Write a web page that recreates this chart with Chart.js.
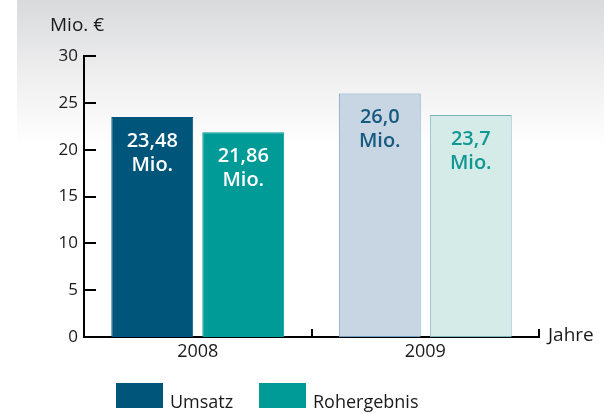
<!DOCTYPE html>
<html>
<head>
<meta charset="utf-8">
<script src="https://cdn.jsdelivr.net/npm/chart.js@4/dist/chart.umd.min.js"></script>
<style>
html,body{margin:0;padding:0;background:#fff;}
#wrap{width:604px;height:414px;position:relative;}
</style>
</head>
<body>
<div id="wrap"><canvas id="c" width="604" height="414"></canvas></div>
<script>
// ---- data ----
const categories = ['2008', '2009'];
const seriesNames = ['Umsatz', 'Rohergebnis'];
const umsatz = [23.48, 26.0];
const rohergebnis = [21.86, 23.7];
const umsatzLabels = ['23,48', '26,0'];
const rohergebnisLabels = ['21,86', '23,7'];
const unitLabel = 'Mio.';
const yAxisTitle = 'Mio. €';
const xAxisTitle = 'Jahre';
const yTickValues = [0, 5, 10, 15, 20, 25, 30];

// ---- styles ----
const FONT = "'Open Sans', 'Noto Sans', sans-serif";
const umsatzFill = ['#00557b', '#c7d6e2'];
const umsatzBorder = ['#00557b', '#6f9dbd'];
const umsatzText = ['#ffffff', '#165a80'];
const rohFill = ['#009a97', '#d5ebe8'];
const rohBorder = ['#009a97', '#7cb2ba'];
const rohText = ['#ffffff', '#0f9892'];
const legendColors = [umsatzFill[0], rohFill[0]];
const valueLabels = [umsatzLabels, rohergebnisLabels];
const valueColors = [umsatzText, rohText];

const bgPlugin = {
  id: 'bg',
  beforeDraw(chart) {
    const ctx = chart.ctx;
    ctx.save();
    ctx.fillStyle = '#ffffff';
    ctx.fillRect(0, 0, chart.width, chart.height);
    const g = ctx.createLinearGradient(0, 0, 0, 145);
    g.addColorStop(0, '#d9dadc');
    g.addColorStop(0.5, '#eeeeef');
    g.addColorStop(0.8, '#f8f8f8');
    g.addColorStop(1, '#ffffff');
    ctx.fillStyle = g;
    ctx.fillRect(17, 0, chart.width - 17, 145);
    ctx.restore();
  }
};

const decorPlugin = {
  id: 'decor',
  afterDatasetsDraw(chart) {
    const ctx = chart.ctx;
    const ys = chart.scales.y, xs = chart.scales.x;
    const ca = chart.chartArea;
    ctx.save();
    // y tick marks (pointing inward)
    ctx.strokeStyle = '#000';
    ctx.lineWidth = 2;
    yTickValues.forEach(v => {
      const py = Math.round(ys.getPixelForValue(v));
      ctx.beginPath();
      ctx.moveTo(ca.left - 1, py);
      ctx.lineTo(ca.left + 12, py);
      ctx.stroke();
    });
    // x tick marks at category boundaries (pointing up)
    const b1 = (xs.getPixelForValue(0) + xs.getPixelForValue(1)) / 2;
    [b1, ca.right].forEach(px => {
      ctx.beginPath();
      ctx.moveTo(Math.round(px), ca.bottom + 1);
      ctx.lineTo(Math.round(px), ca.bottom - 8);
      ctx.stroke();
    });
    // value labels in bars
    chart.data.datasets.forEach((ds, di) => {
      const meta = chart.getDatasetMeta(di);
      meta.data.forEach((bar, i) => {
        ctx.fillStyle = valueColors[di][i];
        ctx.font = "600 20px " + FONT;
        ctx.textAlign = 'center';
        ctx.textBaseline = 'alphabetic';
        ctx.fillText(valueLabels[di][i], bar.x, bar.y + 30);
        ctx.fillText(unitLabel, bar.x, bar.y + 54);
      });
    });
    // axis titles
    ctx.fillStyle = '#1a1a1a';
    ctx.textAlign = 'left';
    ctx.font = "19px " + FONT;
    ctx.textBaseline = 'alphabetic';
    ctx.fillText(yAxisTitle, 50, 31);
    ctx.fillText(xAxisTitle, ca.right + 9, ca.bottom + 4);
    // legend
    chart.data.datasets.forEach((ds, di) => {
      const bx = di === 0 ? 116 : 259;
      ctx.fillStyle = legendColors[di];
      ctx.fillRect(bx, 383, 47, 25);
      ctx.fillStyle = '#1a1a1a';
      ctx.font = "18px " + FONT;
      ctx.textAlign = 'left';
      ctx.fillText(ds.label, bx + 54, 408);
    });
    ctx.restore();
  }
};

new Chart(document.getElementById('c'), {
  type: 'bar',
  data: {
    labels: categories,
    datasets: [
      {
        label: seriesNames[0],
        data: umsatz,
        backgroundColor: umsatzFill,
        borderColor: umsatzBorder,
        borderWidth: 1,
        borderSkipped: false,
        categoryPercentage: 0.8,
        barPercentage: 0.9
      },
      {
        label: seriesNames[1],
        data: rohergebnis,
        backgroundColor: rohFill,
        borderColor: rohBorder,
        borderWidth: 1,
        borderSkipped: false,
        categoryPercentage: 0.8,
        barPercentage: 0.9
      }
    ]
  },
  options: {
    responsive: false,
    animation: false,
    devicePixelRatio: 1,
    layout: { padding: { left: 0, right: 65, top: 56, bottom: 0 } },
    plugins: { legend: { display: false }, tooltip: { enabled: false } },
    scales: {
      x: {
        grid: { display: false, drawTicks: false },
        border: { display: true, color: '#000', width: 2 },
        ticks: { color: '#1a1a1a', font: { family: FONT, size: 18 }, padding: 4 },
        afterFit(scale) { scale.height = 77; }
      },
      y: {
        min: 0, max: 30,
        grid: { display: false, drawTicks: false },
        border: { display: true, color: '#000', width: 2 },
        ticks: { stepSize: 5, color: '#1a1a1a', font: { family: FONT, size: 17 }, padding: 6 },
        afterFit(scale) { scale.width = 84; }
      }
    }
  },
  plugins: [bgPlugin, decorPlugin]
});
</script>
</body>
</html>
